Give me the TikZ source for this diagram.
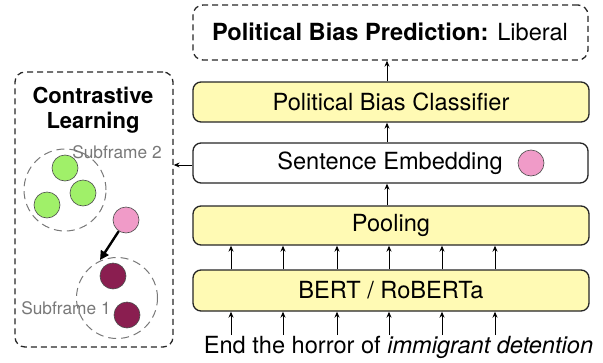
\documentclass[tikz,border=0pt]{standalone}
\usepackage{fontspec}
\setmainfont{TeX Gyre Heros}
\usetikzlibrary{arrows.meta}
\definecolor{boxyellow}{RGB}{255,250,180}
\definecolor{embpink}{RGB}{240,155,200}
\definecolor{lgreen}{RGB}{160,240,105}
\definecolor{maroon}{RGB}{138,30,80}
\definecolor{dgray}{RGB}{120,120,120}
\tikzset{
  mainfont/.style={font=\fontsize{23.6}{27}\selectfont},
  layerbox/.style={draw=black!85, line width=1.3pt, rounded corners=8pt, fill=boxyellow, inner sep=0pt, mainfont},
  plainbox/.style={layerbox, fill=white},
  dashbox/.style={draw=black!85, line width=1.3pt, rounded corners=10pt, dash pattern=on 6pt off 4pt, inner sep=0pt},
  dot/.style={circle, draw=black!70, line width=0.6pt, minimum size=26pt, inner sep=0pt},
  subframe/.style={circle, draw=dgray, line width=1pt, dash pattern=on 8pt off 5pt, inner sep=0pt},
  up/.style={-{Stealth[length=6pt,width=5pt]}, line width=1pt, black},
  sublabel/.style={text=dgray, font=\fontsize{17.3}{20}\selectfont, inner sep=0pt},
}
\begin{document}
\begin{tikzpicture}[x=1pt,y=-1pt]
\useasboundingbox (0,0) rectangle (603,362);
% right column
\node[dashbox, minimum width=395pt, minimum height=55pt] (pred) at (390.5,32.5) {};
\node[mainfont, inner sep=0pt] (predtext) at (390,32) {\textbf{Political Bias Prediction:} Liberal};
\node[layerbox, minimum width=396pt, minimum height=40pt] (clf) at (391,102) {Political Bias Classifier};
\node[plainbox, minimum width=395pt, minimum height=40pt] (emb) at (390.5,163) {};
\node[mainfont, inner sep=0pt] (embtext) at (390,163) {Sentence Embedding};
\node[dot, fill=embpink] (embdot) at (531,163) {};
\node[layerbox, minimum width=396pt, minimum height=39pt] (pool) at (391,225.5) {Pooling};
\node[layerbox, minimum width=396pt, minimum height=41pt] (bert) at (391,290.5) {BERT / RoBERTa};
\node[mainfont, inner sep=0pt] (input) at (398.5,347) {End the horror of \textit{immigrant detention}};
% vertical arrows
\draw[up] (clf.north -| 387,0) -- (pred.south -| 387,0);
\draw[up] (emb.north -| 387,0) -- (clf.south -| 387,0);
\draw[up] (pool.north -| 387,0) -- (emb.south -| 387,0);
\foreach \i/\x in {1/231,2/283,3/337,4/389,5/442,6/495}{
  \draw[up] (bert.north -| \x,0) -- (pool.south -| \x,0);
  \coordinate (in\i) at (\x,335);
  \draw[up] (in\i) -- (bert.south -| \x,0);
}
% left panel
\node[dashbox, minimum width=158pt, minimum height=275pt] (cl) at (94,209.5) {};
\draw[up] (emb.west |- 0,165) -- (cl.east |- 0,165);
\node[font=\bfseries\fontsize{22}{25}\selectfont, align=center, inner sep=0pt] (cltitle) at (93,110) {Contrastive\\Learning};
\node[subframe, minimum size=82pt] (sf2) at (65,190) {};
\node[subframe, minimum size=81pt] (sf1) at (117,298) {};
\node[dot, fill=lgreen] (g1) at (65,168) {};
\node[dot, fill=lgreen] (g2) at (83,193) {};
\node[dot, fill=lgreen] (g3) at (47,205) {};
\node[sublabel] (sf2l) at (117,152) {Subframe 2};
\node[dot, fill=embpink] (anchor) at (126,220) {};
\node[dot, fill=maroon] (m1) at (113,276) {};
\node[dot, fill=maroon] (m2) at (127,315) {};
\node[sublabel] (sf1l) at (66,308) {Subframe 1};
\draw[-{Triangle[length=9pt,width=9pt]}, line width=2.4pt] (anchor) -- (100,260);
\end{tikzpicture}
\end{document}
